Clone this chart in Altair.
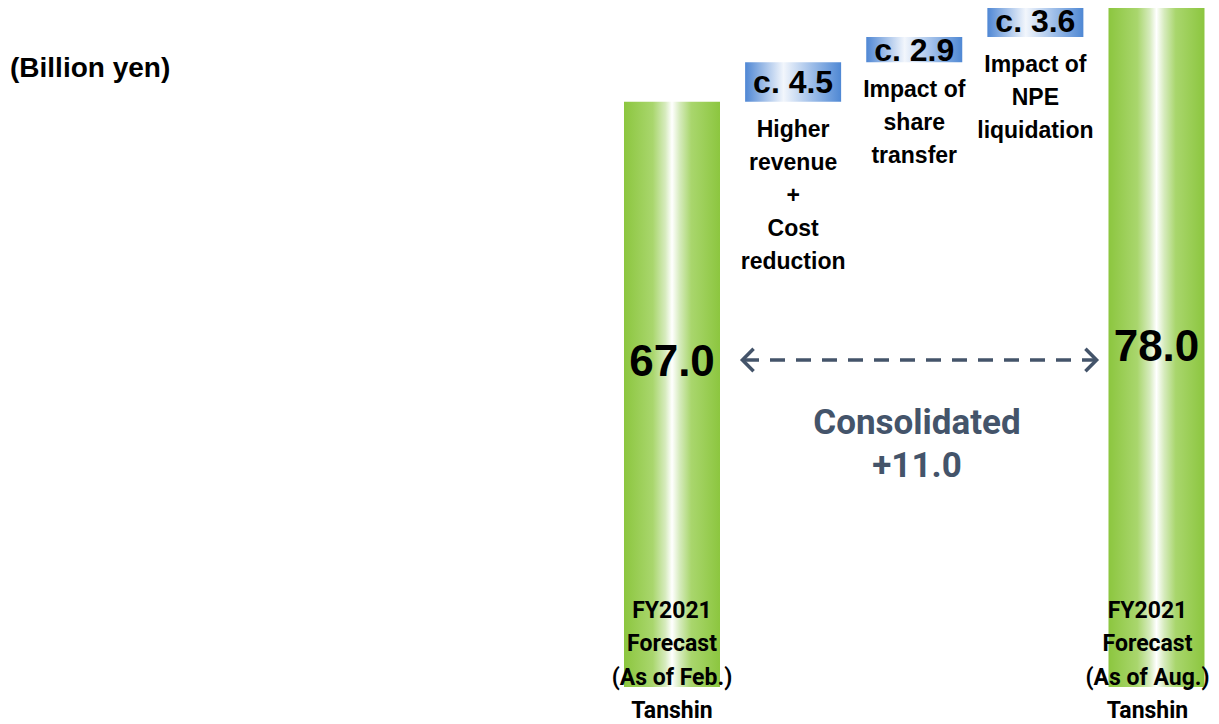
import altair as alt
import pandas as pd

# ---- data ----
categories = ["FY2021 Forecast (Feb.)", "Higher revenue + Cost reduction",
              "Impact of share transfer", "Impact of NPE liquidation", "FY2021 Forecast (Aug.)"]
total_values = [67.0, 78.0]
step_values = [4.5, 2.9, 3.6]
total_labels = ["FY2021\nForecast\n(As of Feb.)\nTanshin",
                "FY2021\nForecast\n(As of Aug.)\nTanshin"]
step_labels = ["Higher\nrevenue\n+\nCost\nreduction",
               "Impact of\nshare\ntransfer",
               "Impact of\nNPE\nliquidation"]
unit_label = "(Billion yen)"
diff_label = "Consolidated\n+11.0"

rows = [dict(idx=0, cat=categories[0], kind="total", start=0.0, end=total_values[0],
             mid=total_values[0] / 2, txt=f"{total_values[0]:.1f}", desc=total_labels[0])]
cum = total_values[0]
for i, (v, lab) in enumerate(zip(step_values, step_labels)):
    rows.append(dict(idx=i + 1, cat=categories[i + 1], kind="step", start=cum, end=cum + v,
                     mid=cum + v / 2, txt=f"c. {v:.1f}", desc=lab))
    cum += v
rows.append(dict(idx=4, cat=categories[4], kind="total", start=0.0, end=total_values[1],
                 mid=total_values[1] / 2, txt=f"{total_values[1]:.1f}", desc=total_labels[1]))
df = pd.DataFrame(rows)
one = pd.DataFrame({"k": [0]})

W, H = 1203, 716
FONT = "Liberation Sans"
FONT2 = "Roboto"
SLATE = "#44546A"
xs = alt.Scale(domain=[-5.482, 4.450], nice=False, zero=False, padding=0)
ys = alt.Scale(domain=[-4.235, 77.72], nice=False, zero=False, padding=0)
X = alt.X("idx:Q", scale=xs, axis=None)

green = alt.Gradient(gradient="linear", x1=0, x2=1, y1=0, y2=0, stops=[
    alt.GradientStop(color="#8cc63f", offset=0),
    alt.GradientStop(color="#a9d66d", offset=0.3),
    alt.GradientStop(color="#d6ebbd", offset=0.43),
    alt.GradientStop(color="#ffffff", offset=0.5),
    alt.GradientStop(color="#d6ebbd", offset=0.58),
    alt.GradientStop(color="#a9d66d", offset=0.7),
    alt.GradientStop(color="#8cc63f", offset=1)])
blue = alt.Gradient(gradient="linear", x1=0, x2=1, y1=0, y2=0, stops=[
    alt.GradientStop(color="#4f87d4", offset=0),
    alt.GradientStop(color="#f2f6fc", offset=0.4),
    alt.GradientStop(color="#9dbde8", offset=0.7),
    alt.GradientStop(color="#4f88d4", offset=1)])

base = alt.Chart(df)
totals = base.transform_filter("datum.kind == 'total'")
steps = base.transform_filter("datum.kind == 'step'")

total_bars = totals.mark_bar(size=96, color=green).encode(
    x=X, y=alt.Y("end:Q", scale=ys, axis=None), y2="start:Q")
step_boxes = steps.mark_bar(size=96, color=blue).encode(
    x=X, y=alt.Y("end:Q", scale=ys, axis=None), y2="start:Q")
step_vals = steps.mark_text(font=FONT, fontSize=32, fontWeight="bold", color="#000000",
                            baseline="middle", dy=1).encode(
    x=X, y=alt.Y("mid:Q", scale=ys, axis=None), text="txt:N")
step_desc = steps.mark_text(font=FONT, fontSize=23, fontWeight="bold", color="#000000",
                            baseline="top", lineBreak="\n", lineHeight=33, dy=17).encode(
    x=X, y=alt.Y("start:Q", scale=ys, axis=None), text="desc:N")

total_val_a = totals.transform_filter("datum.idx == 0").mark_text(
    font=FONT, fontSize=44, fontWeight="bold", color="#000000", baseline="middle").encode(
    x=X, y=alt.value(355), text="txt:N")
total_val_b = totals.transform_filter("datum.idx == 4").mark_text(
    font=FONT, fontSize=44, fontWeight="bold", color="#000000", baseline="middle").encode(
    x=X, y=alt.value(340), text="txt:N")
total_desc_a = totals.transform_filter("datum.idx == 0").mark_text(
    font=FONT2, fontSize=23, fontWeight="bold", color="#000000",
    baseline="top", lineBreak="\n", lineHeight=33.3).encode(
    x=X, y=alt.value(592), text="desc:N")
total_desc_b = totals.transform_filter("datum.idx == 4").mark_text(
    font=FONT2, fontSize=23, fontWeight="bold", color="#000000",
    baseline="top", lineBreak="\n", lineHeight=33.3, dx=-9).encode(
    x=X, y=alt.value(592), text="desc:N")

arrow_line = alt.Chart(one).mark_rule(color=SLATE, strokeWidth=3.5, strokeDash=[15, 11]).encode(
    x=alt.value(736), x2=alt.value(1087), y=alt.value(352))
arrow_l = alt.Chart(one).mark_point(shape="M 0.5 -1 L -0.5 0 L 0.5 1", filled=False,
                                    color=SLATE, strokeWidth=3.5, size=500, opacity=1).encode(
    x=alt.value(740), y=alt.value(352))
arrow_r = alt.Chart(one).mark_point(shape="M -0.5 -1 L 0.5 0 L -0.5 1", filled=False,
                                    color=SLATE, strokeWidth=3.5, size=500, opacity=1).encode(
    x=alt.value(1083), y=alt.value(352))
diff_text = alt.Chart(one).mark_text(font=FONT2, fontSize=35, fontWeight="bold", color=SLATE,
                                     baseline="top", lineBreak="\n", lineHeight=43).encode(
    x=alt.value(909), y=alt.value(398), text=alt.value(diff_label))
unit_text = alt.Chart(one).mark_text(font=FONT, fontSize=28, fontWeight="bold", color="#000000",
                                     align="left", baseline="middle").encode(
    x=alt.value(2), y=alt.value(61), text=alt.value(unit_label))

chart = alt.layer(
    total_bars, step_boxes, step_vals, step_desc, total_val_a, total_val_b,
    total_desc_a, total_desc_b, arrow_line, arrow_l, arrow_r, diff_text, unit_text
).properties(
    width=W, height=H, padding=0, autosize=alt.AutoSizeParams(type="none")
).configure_view(stroke=None)

chart.save("out.html", embed_options={"renderer": "svg", "actions": False})
